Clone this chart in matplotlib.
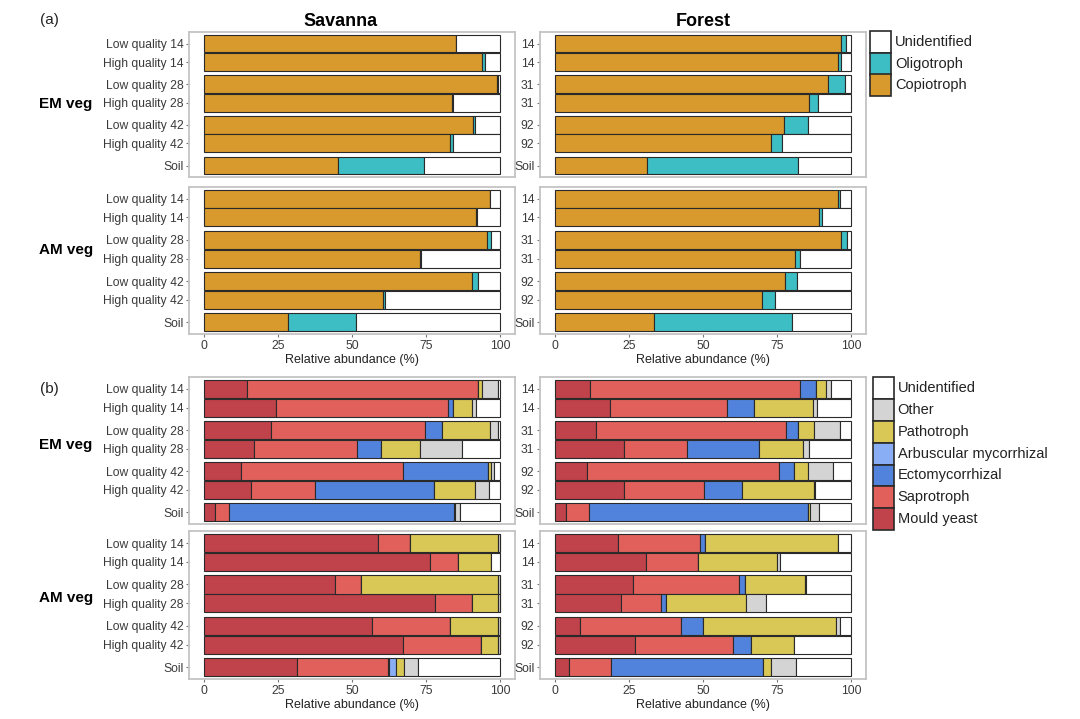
import matplotlib
matplotlib.use('Agg')
from matplotlib import pyplot as plt
from matplotlib.patches import Rectangle

plt.rcParams['font.family'] = ['Liberation Sans', 'DejaVu Sans']

sav_labels = ['Low quality 14', 'High quality 14', 'Low quality 28', 'High quality 28',
              'Low quality 42', 'High quality 42', 'Soil']
for_labels = ['14', '14', '31', '31', '92', '92', 'Soil']

# (a) trophic strategy: rows = Copiotroph, Oligotroph, Unidentified
troph_names = ['Copiotroph', 'Oligotroph', 'Unidentified']
troph_colors = ['#D89A2C', '#3DBEC4', '#FFFFFF']

a_sav_em = [[85.2, 93.7, 98.9, 83.8, 90.7, 83.0, 45.2],
            [0.0, 1.2, 0.3, 0.2, 0.8, 1.1, 29.2],
            [14.8, 5.1, 0.8, 16.0, 8.5, 15.9, 25.6]]
a_sav_am = [[96.6, 92.0, 95.7, 73.1, 90.6, 60.6, 28.4],
            [0.0, 0.2, 1.1, 0.2, 1.8, 0.5, 23.0],
            [3.4, 7.8, 3.2, 26.7, 7.6, 38.9, 48.6]]
a_for_em = [[96.7, 95.7, 92.2, 85.9, 77.3, 72.8, 31.2],
            [1.5, 0.7, 5.7, 2.8, 8.0, 4.0, 51.0],
            [1.8, 3.6, 2.1, 11.3, 14.7, 23.2, 17.8]]
a_for_am = [[95.7, 89.2, 96.5, 81.0, 77.8, 70.0, 33.6],
            [0.5, 1.0, 2.0, 1.6, 3.8, 4.3, 46.4],
            [3.8, 9.8, 1.5, 17.4, 18.4, 25.7, 20.0]]

# (b) guilds: columns = Mould yeast, Saprotroph, Ectomycorrhizal,
# Arbuscular mycorrhizal, Pathotroph, Other, Unidentified
guild_names = ['Mould yeast', 'Saprotroph', 'Ectomycorrhizal', 'Arbuscular mycorrhizal',
               'Pathotroph', 'Other', 'Unidentified']
guild_colors = ['#C0424A', '#E2605C', '#5283DC', '#8AAEF5', '#D9C856', '#D4D4D4', '#FFFFFF']

b_sav_em = [[14.5, 78.0, 0.0, 0.0, 1.5, 5.3, 0.7],
            [24.2, 58.1, 1.7, 0.0, 6.6, 1.1, 8.3],
            [22.5, 52.0, 5.9, 0.0, 16.1, 2.6, 0.9],
            [17.0, 34.6, 8.3, 0.0, 13.2, 14.1, 12.8],
            [12.5, 54.6, 28.8, 0.0, 1.1, 1.0, 2.0],
            [15.9, 21.6, 40.3, 0.0, 13.7, 4.8, 3.7],
            [3.7, 4.9, 75.7, 0.6, 0.0, 1.4, 13.7]]
b_sav_am = [[58.8, 10.8, 0.0, 0.0, 29.7, 0.7, 0.0],
            [76.4, 9.4, 0.0, 0.0, 11.0, 0.0, 3.2],
            [44.4, 8.7, 0.0, 0.0, 46.2, 0.7, 0.0],
            [77.9, 12.5, 0.0, 0.0, 8.9, 0.7, 0.0],
            [56.8, 26.4, 0.0, 0.0, 16.1, 0.7, 0.0],
            [67.1, 26.5, 0.0, 0.0, 5.7, 0.7, 0.0],
            [31.3, 30.9, 0.4, 2.4, 2.7, 4.7, 27.6]]
b_for_em = [[12.0, 70.8, 5.2, 0.0, 3.6, 1.6, 6.8],
            [18.6, 39.5, 9.0, 0.0, 19.9, 1.6, 11.4],
            [13.9, 64.0, 4.0, 0.0, 5.4, 8.8, 3.9],
            [23.2, 21.5, 24.1, 0.0, 15.0, 1.9, 14.3],
            [10.8, 64.9, 5.0, 0.0, 4.7, 8.5, 6.1],
            [23.2, 27.1, 12.8, 0.0, 24.2, 0.4, 12.3],
            [3.9, 7.8, 73.7, 0.0, 0.8, 2.9, 10.9]]
b_for_am = [[21.2, 27.9, 1.7, 0.0, 44.6, 0.3, 4.3],
            [30.6, 17.8, 0.0, 0.0, 26.6, 0.9, 24.1],
            [26.3, 35.9, 1.9, 0.0, 20.3, 0.4, 15.2],
            [22.3, 13.5, 1.6, 0.0, 27.0, 6.7, 28.9],
            [8.4, 34.3, 7.4, 0.0, 44.8, 1.2, 3.9],
            [27.1, 33.1, 6.0, 0.0, 14.5, 0.0, 19.3],
            [4.8, 14.0, 51.3, 0.0, 2.7, 8.5, 18.7]]

ypos = [0, 1, 2.2, 3.2, 4.4, 5.4, 6.6]
W, H = 1080, 719
fig = plt.figure(figsize=(10.8, 7.19), dpi=100)


def make_ax(left_px, top_px, bottom_px):
    return fig.add_axes([left_px / W, 1 - bottom_px / H, 326 / W, (bottom_px - top_px) / H])


def style_ax(ax, labels, show_x):
    ax.set_xlim(-5, 105)
    ax.set_ylim(7.22, -0.64)
    ax.set_yticks(ypos)
    ax.set_yticklabels(labels)
    ax.set_xticks([0, 25, 50, 75, 100])
    for s in ax.spines.values():
        s.set_color('#C4C4C4')
        s.set_linewidth(1.3)
    ax.tick_params(axis='both', length=2.5, width=0.8, color='#777777',
                   labelsize=8.7, labelcolor='#3A3A3A', pad=1.5)
    if show_x:
        ax.set_xlabel('Relative abundance (%)', fontsize=9, color='#222222', labelpad=2)
    else:
        ax.tick_params(axis='x', length=0, labelbottom=False)


def draw_troph(ax, series):
    left = [0] * 7
    for vals, c in zip(series, troph_colors):
        ax.barh(ypos, vals, left=left, height=0.96, color=c, edgecolor='#2A2A2A', linewidth=0.8)
        left = [l + v for l, v in zip(left, vals)]


def draw_guild(ax, rows):
    left = [0] * 7
    for k, c in enumerate(guild_colors):
        vals = [r[k] for r in rows]
        ax.barh(ypos, vals, left=left, height=0.96, color=c, edgecolor='#2A2A2A', linewidth=0.8)
        left = [l + v for l, v in zip(left, vals)]


def draw_legend(x_px, top_px, names, colors, step=21.8, box_w=21):
    # ggplot-style keys: stacked touching boxes, labels to the right
    for i, (name, col) in enumerate(zip(names, colors)):
        y0 = top_px + i * step
        fig.add_artist(Rectangle((x_px / W, 1 - (y0 + step) / H), box_w / W, step / H,
                                 transform=fig.transFigure, facecolor=col,
                                 edgecolor='#2A2A2A', linewidth=1.2))
        fig.text((x_px + box_w + 4) / W, 1 - (y0 + step / 2) / H, name,
                 fontsize=10.5, ha='left', va='center', color='#222222')


rows_px = [(31.7, 177), (186.7, 334), (377, 524), (531, 679)]
cols_px = [189, 540]

panels = [
    (0, 0, a_sav_em, 'a'), (0, 1, a_for_em, 'a'),
    (1, 0, a_sav_am, 'a'), (1, 1, a_for_am, 'a'),
    (2, 0, b_sav_em, 'b'), (2, 1, b_for_em, 'b'),
    (3, 0, b_sav_am, 'b'), (3, 1, b_for_am, 'b'),
]
for r, c, data, kind in panels:
    ax = make_ax(cols_px[c], rows_px[r][0], rows_px[r][1])
    if kind == 'a':
        draw_troph(ax, data)
    else:
        draw_guild(ax, data)
    style_ax(ax, sav_labels if c == 0 else for_labels, r in (1, 3))

# titles and labels
fig.text(341 / W, 1 - 21 / H, 'Savanna', fontsize=13, fontweight='bold', ha='center', va='center')
fig.text(703 / W, 1 - 21 / H, 'Forest', fontsize=13, fontweight='bold', ha='center', va='center')
fig.text(40 / W, 1 - 20 / H, '(a)', fontsize=11, ha='left', va='center', color='#222222')
fig.text(40 / W, 1 - 389 / H, '(b)', fontsize=11, ha='left', va='center', color='#222222')
for y, t in [(104, 'EM veg'), (250, 'AM veg'), (445, 'EM veg'), (598, 'AM veg')]:
    fig.text(66 / W, 1 - y / H, t, fontsize=11, fontweight='bold', ha='center', va='center')

# legends (top entry first, as in the reference)
draw_legend(870, 31.5, troph_names[::-1], troph_colors[::-1], step=21.5, box_w=21)
draw_legend(872.5, 377.3, guild_names[::-1], guild_colors[::-1], step=21.8, box_w=21)

fig.savefig('out.png', dpi=100)
